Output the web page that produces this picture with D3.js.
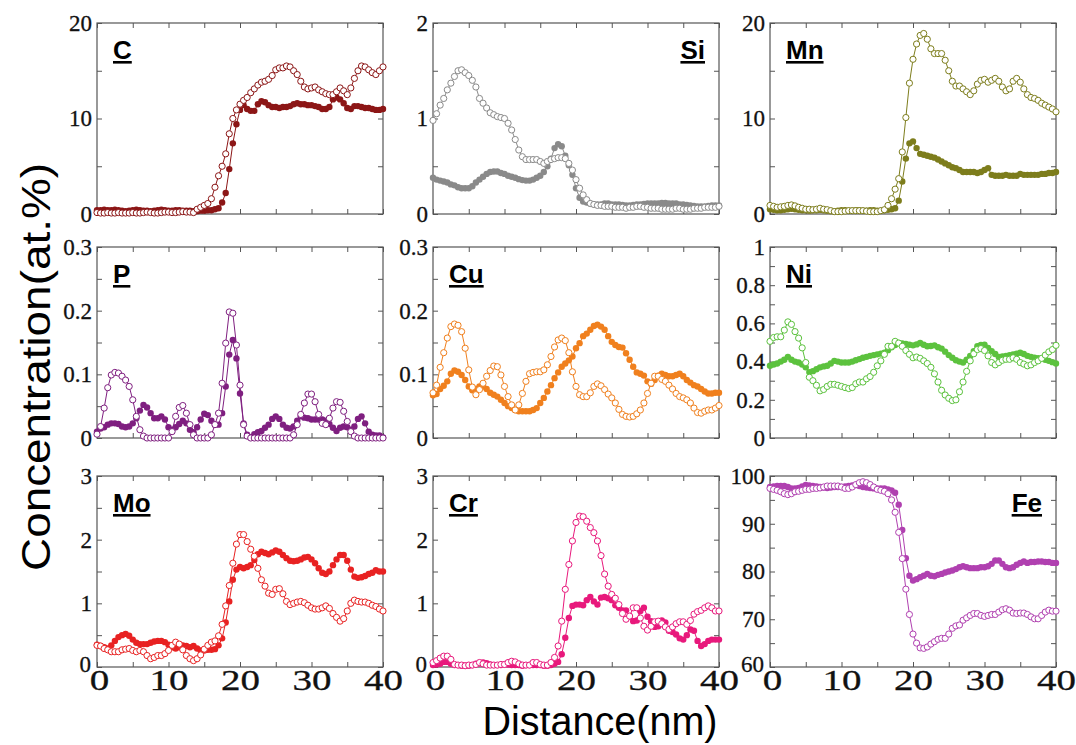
<!DOCTYPE html>
<html>
<head>
<meta charset="utf-8">
<script src="https://cdn.jsdelivr.net/npm/d3@7"></script>
<style>
  html, body { margin: 0; padding: 0; background: #fff; }
  svg { display: block; }
  .tick text { font-family: "Liberation Serif", "Times New Roman", serif; fill: #111; }
</style>
</head>
<body>
<svg id="chart" width="1076" height="745"></svg>
<script>
// distance axis (nm), one reading every 0.5 nm
const distance = d3.range(0, 40.25, 0.5);

const elements = ['C', 'Si', 'Mn', 'P', 'Cu', 'Ni', 'Mo', 'Cr', 'Fe'];
const colors = ['#8c1616', '#8a8a8a', '#7d7d1c', '#7f1f80', '#f0801e', '#5cc23e', '#e82222', '#e8197c', '#b040b0'];
const yDomains = [[0, 20], [0, 2], [0, 20], [0, 0.3], [0, 0.3], [0, 1], [0, 3], [0, 3], [60, 100]];
const yMinor = [5, 0.5, 5, 0.05, 0.05, 0.1, 0.5, 0.5, 5];
const yMajor = [10, 1, 10, 0.1, 0.1, 0.2, 1, 1, 10];
const labelSide = ['left', 'right', 'left', 'left', 'left', 'left', 'left', 'left', 'right'];
const xTicks = [0, 5, 10, 15, 20, 25, 30, 35, 40];

// filled symbols / open symbols, per element
const cFilled = [0.4,0.4,0.45,0.4,0.4,0.45,0.4,0.35,0.3,0.35,
  0.4,0.45,0.4,0.35,0.35,0.3,0.35,0.4,0.45,0.4,
  0.35,0.35,0.4,0.4,0.35,0.35,0.35,0.3,0.3,0.35,
  0.35,0.4,0.4,0.5,0.6,1.2,2.2,4.7,7.4,9.4,
  10.9,11.4,11.0,10.8,10.8,11.5,11.8,11.7,11.4,11.2,
  11.2,11.1,11.2,11.2,11.3,11.5,11.6,11.5,11.5,11.4,
  11.4,11.3,11.2,11.0,11.0,11.2,12.0,12.2,12.0,11.6,
  11.1,11.0,11.3,11.3,11.2,11.1,11.1,11.0,10.9,10.9,
  11.0];
const cOpen = [0.15,0.1,0.1,0.15,0.1,0.1,0.15,0.1,0.1,0.1,
  0.15,0.1,0.1,0.15,0.2,0.15,0.1,0.1,0.15,0.2,
  0.2,0.15,0.15,0.2,0.25,0.2,0.2,0.15,0.5,0.7,
  0.9,1.1,1.6,2.8,4.0,5.0,6.3,8.4,10.0,10.9,
  11.5,11.9,12.2,12.7,13.1,13.5,13.8,13.9,14.1,14.5,
  15.1,15.3,15.3,15.5,15.4,15.0,14.6,13.9,13.3,13.1,
  13.2,13.3,13.0,12.8,12.6,12.5,12.5,12.8,13.2,12.9,
  12.5,13.2,14.2,15.0,15.5,15.4,15.1,14.8,14.6,15.0,
  15.4];

const siFilled = [0.38,0.36,0.35,0.34,0.33,0.31,0.30,0.28,0.27,0.27,
  0.27,0.29,0.33,0.36,0.39,0.42,0.44,0.445,0.445,0.43,
  0.42,0.40,0.39,0.38,0.365,0.355,0.35,0.35,0.36,0.38,
  0.40,0.44,0.50,0.58,0.69,0.73,0.71,0.61,0.51,0.41,
  0.27,0.17,0.13,0.12,0.11,0.10,0.10,0.10,0.11,0.11,
  0.10,0.10,0.10,0.095,0.09,0.09,0.095,0.10,0.10,0.105,
  0.11,0.11,0.11,0.11,0.115,0.115,0.11,0.11,0.11,0.10,
  0.10,0.095,0.09,0.085,0.08,0.08,0.08,0.085,0.09,0.09,
  0.09];
const siOpen = [0.98,1.05,1.14,1.21,1.30,1.37,1.44,1.50,1.51,1.48,
  1.45,1.40,1.33,1.21,1.16,1.11,1.06,1.04,1.02,1.01,
  1.00,0.95,0.88,0.78,0.67,0.60,0.57,0.57,0.57,0.57,
  0.55,0.53,0.55,0.57,0.58,0.59,0.59,0.58,0.53,0.46,
  0.36,0.27,0.20,0.15,0.11,0.10,0.09,0.09,0.08,0.08,
  0.08,0.07,0.07,0.07,0.06,0.07,0.07,0.08,0.08,0.07,
  0.07,0.06,0.06,0.06,0.05,0.05,0.05,0.05,0.06,0.06,
  0.05,0.05,0.05,0.06,0.06,0.06,0.07,0.07,0.07,0.07,
  0.08];

const mnFilled = [0.5,0.45,0.4,0.4,0.45,0.5,0.55,0.5,0.45,0.4,
  0.4,0.35,0.4,0.4,0.45,0.4,0.35,0.3,0.3,0.35,
  0.4,0.4,0.35,0.35,0.4,0.4,0.35,0.35,0.4,0.4,
  0.35,0.35,0.4,0.45,0.5,0.6,1.4,3.4,5.8,7.4,
  7.6,6.9,6.3,6.2,6.1,6.0,5.9,5.7,5.5,5.3,
  5.1,4.9,4.8,4.6,4.4,4.4,4.4,4.4,4.3,4.4,
  4.6,4.8,4.1,4.0,4.0,4.0,4.1,4.0,4.0,4.0,
  4.2,4.1,4.1,4.1,4.1,4.1,4.2,4.2,4.3,4.3,
  4.4];
const mnOpen = [0.9,0.8,0.7,0.75,0.8,0.9,0.95,0.85,0.7,0.6,
  0.5,0.5,0.45,0.5,0.6,0.5,0.45,0.35,0.25,0.25,
  0.25,0.3,0.35,0.35,0.35,0.35,0.35,0.3,0.25,0.25,
  0.25,0.35,0.45,0.9,1.6,2.6,3.7,6.5,10.1,13.7,
  16.2,17.8,18.7,18.9,18.3,17.3,16.8,16.8,16.8,16.1,
  15.0,13.9,13.4,13.4,13.1,12.8,12.5,12.9,13.6,14.0,
  14.1,13.8,14.0,14.2,13.9,13.3,12.9,13.1,13.9,14.2,
  13.8,13.1,12.5,12.2,12.1,11.9,11.6,11.4,11.2,11.0,
  10.7];

const pFilled = [0.010,0.015,0.017,0.021,0.023,0.023,0.022,0.018,0.017,0.018,
  0.023,0.031,0.043,0.052,0.048,0.039,0.031,0.031,0.034,0.029,
  0.017,0.013,0.017,0.022,0.027,0.023,0.013,0.009,0.017,0.029,
  0.038,0.036,0.027,0.021,0.021,0.039,0.081,0.131,0.154,0.125,
  0.070,0.023,0.005,0.001,0.006,0.009,0.011,0.016,0.021,0.030,
  0.034,0.030,0.021,0.016,0.015,0.018,0.027,0.034,0.032,0.031,
  0.029,0.029,0.029,0.029,0.027,0.022,0.016,0.011,0.016,0.018,
  0.017,0.013,0.018,0.030,0.034,0.023,0.010,0.005,0.004,0.004,
  0.001];
const pOpen = [0.006,0.018,0.047,0.079,0.099,0.103,0.102,0.097,0.091,0.081,
  0.060,0.034,0.013,0.003,0,0,0,0,0,0,
  0,0.010,0.034,0.048,0.051,0.039,0.021,0.005,0,0,
  0,0,0.005,0.021,0.039,0.086,0.149,0.198,0.196,0.146,
  0.083,0.021,0.003,0,0,0,0,0,0,0,
  0,0,0,0,0,0.005,0.021,0.037,0.055,0.069,
  0.069,0.057,0.037,0.023,0.021,0.031,0.047,0.057,0.056,0.042,
  0.026,0.010,0.003,0,0,0,0,0,0,0,
  0];

const cuFilled = [0.067,0.069,0.077,0.082,0.089,0.101,0.106,0.104,0.099,0.091,
  0.081,0.075,0.077,0.081,0.081,0.077,0.071,0.068,0.065,0.060,
  0.055,0.050,0.047,0.044,0.042,0.042,0.042,0.042,0.044,0.047,
  0.055,0.063,0.073,0.083,0.094,0.103,0.112,0.117,0.122,0.128,
  0.141,0.149,0.160,0.164,0.170,0.176,0.178,0.175,0.170,0.160,
  0.151,0.146,0.143,0.142,0.133,0.123,0.112,0.103,0.101,0.098,
  0.089,0.085,0.091,0.098,0.101,0.099,0.097,0.097,0.099,0.101,
  0.097,0.091,0.087,0.083,0.081,0.077,0.073,0.070,0.070,0.071,
  0.071];
const cuOpen = [0.071,0.083,0.111,0.134,0.157,0.175,0.179,0.177,0.167,0.141,
  0.107,0.080,0.068,0.076,0.086,0.097,0.106,0.113,0.112,0.099,
  0.081,0.065,0.052,0.044,0.052,0.070,0.089,0.101,0.103,0.104,
  0.104,0.107,0.115,0.128,0.143,0.154,0.157,0.153,0.134,0.104,
  0.081,0.068,0.065,0.065,0.071,0.081,0.085,0.082,0.076,0.069,
  0.063,0.055,0.045,0.037,0.034,0.033,0.034,0.038,0.044,0.055,
  0.070,0.086,0.097,0.097,0.092,0.089,0.083,0.077,0.070,0.065,
  0.063,0.060,0.055,0.047,0.040,0.039,0.042,0.044,0.044,0.047,
  0.051];

const niFilled = [0.378,0.385,0.39,0.40,0.41,0.425,0.41,0.40,0.395,0.385,
  0.37,0.345,0.35,0.36,0.37,0.375,0.378,0.39,0.404,0.40,
  0.395,0.395,0.395,0.40,0.407,0.413,0.42,0.425,0.43,0.434,
  0.438,0.442,0.446,0.46,0.475,0.487,0.497,0.495,0.492,0.488,
  0.485,0.49,0.497,0.488,0.48,0.482,0.485,0.475,0.468,0.452,
  0.434,0.42,0.407,0.40,0.395,0.41,0.43,0.455,0.48,0.487,
  0.489,0.472,0.455,0.44,0.424,0.427,0.43,0.434,0.438,0.442,
  0.446,0.44,0.43,0.425,0.42,0.418,0.417,0.41,0.404,0.397,
  0.39];
const niOpen = [0.506,0.526,0.53,0.53,0.565,0.608,0.595,0.557,0.523,0.472,
  0.395,0.318,0.30,0.276,0.247,0.254,0.27,0.281,0.281,0.276,
  0.27,0.264,0.259,0.264,0.284,0.293,0.293,0.31,0.322,0.344,
  0.378,0.404,0.438,0.48,0.48,0.506,0.497,0.48,0.458,0.438,
  0.42,0.424,0.417,0.404,0.39,0.37,0.336,0.293,0.25,0.225,
  0.208,0.196,0.20,0.242,0.293,0.349,0.404,0.441,0.463,0.468,
  0.458,0.43,0.395,0.383,0.395,0.407,0.412,0.412,0.42,0.412,
  0.395,0.387,0.378,0.383,0.395,0.404,0.417,0.434,0.451,0.463,
  0.485];

const moFilled = [0.35,0.33,0.31,0.29,0.34,0.41,0.47,0.50,0.52,0.49,
  0.43,0.38,0.36,0.36,0.36,0.38,0.40,0.41,0.41,0.39,
  0.35,0.31,0.29,0.31,0.34,0.33,0.31,0.33,0.29,0.26,
  0.26,0.27,0.27,0.28,0.34,0.45,0.70,1.03,1.37,1.53,
  1.57,1.55,1.57,1.60,1.68,1.77,1.81,1.79,1.77,1.80,
  1.83,1.81,1.76,1.71,1.67,1.66,1.67,1.69,1.72,1.73,
  1.69,1.63,1.55,1.48,1.46,1.50,1.60,1.69,1.76,1.76,
  1.67,1.53,1.42,1.40,1.41,1.43,1.46,1.48,1.52,1.50,
  1.50];
const moOpen = [0.34,0.33,0.29,0.27,0.24,0.24,0.24,0.27,0.28,0.29,
  0.26,0.24,0.26,0.24,0.18,0.13,0.15,0.18,0.18,0.21,
  0.26,0.34,0.39,0.36,0.27,0.18,0.13,0.10,0.13,0.19,
  0.28,0.34,0.39,0.41,0.49,0.67,0.96,1.28,1.63,1.93,
  2.08,2.08,1.97,1.85,1.74,1.55,1.37,1.27,1.16,1.14,
  1.22,1.23,1.15,1.03,0.98,1.00,1.02,1.03,1.01,0.97,
  0.93,0.91,0.91,0.93,0.96,0.92,0.84,0.78,0.72,0.76,
  0.88,1.00,1.05,1.03,1.02,1.02,1.00,0.97,0.95,0.91,
  0.88];

const crFilled = [0.03,0.04,0.05,0.08,0.08,0.05,0.03,0.03,0.02,0.02,
  0.02,0.03,0.05,0.06,0.07,0.06,0.04,0.03,0.03,0.03,
  0.04,0.04,0.03,0.03,0.03,0.02,0.03,0.03,0.03,0.03,
  0.03,0.02,0.02,0.03,0.05,0.08,0.20,0.46,0.77,0.96,
  0.98,0.98,0.97,1.05,1.10,1.03,0.98,1.09,1.10,1.08,
  1.05,0.97,0.93,0.89,0.89,0.79,0.72,0.73,0.88,0.93,
  0.79,0.72,0.63,0.64,0.73,0.70,0.57,0.55,0.51,0.45,
  0.43,0.50,0.59,0.57,0.41,0.33,0.36,0.41,0.43,0.43,
  0.43];
const crOpen = [0.07,0.10,0.14,0.17,0.17,0.12,0.04,0.03,0.03,0.02,
  0.03,0.03,0.04,0.07,0.05,0.03,0.03,0.03,0.03,0.04,
  0.04,0.07,0.09,0.08,0.05,0.03,0.03,0.03,0.07,0.07,
  0.04,0.03,0.03,0.07,0.15,0.33,0.72,1.22,1.61,1.98,
  2.27,2.37,2.36,2.29,2.19,2.11,1.98,1.75,1.46,1.27,
  1.14,1.08,0.98,0.84,0.75,0.80,0.93,0.93,0.77,0.64,
  0.58,0.64,0.71,0.72,0.68,0.63,0.59,0.63,0.68,0.71,
  0.71,0.67,0.73,0.83,0.87,0.89,0.93,0.96,0.93,0.88,
  0.88];

const feFilled = [97.7,97.8,97.9,97.9,97.9,97.7,97.4,97.4,97.5,97.8,
  98.1,98.0,97.9,97.8,97.7,97.6,97.5,97.6,97.7,97.7,
  97.7,97.8,97.9,98.0,98.1,97.9,97.7,97.6,97.5,97.4,
  97.4,97.4,97.4,97.2,97.0,96.5,94.0,88.7,82.8,79.1,
  78.1,78.4,78.8,79.1,79.5,79.1,79.0,79.3,79.5,79.8,
  80.0,80.2,80.5,80.9,81.1,80.9,80.7,80.7,80.7,80.9,
  80.9,81.1,81.6,82.3,82.3,81.6,80.9,80.7,80.9,81.4,
  81.8,82.1,81.8,82.0,82.0,82.1,82.1,82.0,82.0,81.8,
  81.8];
const feOpen = [97.4,97.2,97.0,96.7,96.3,96.1,96.3,96.7,96.8,97.0,
  97.2,97.2,97.4,97.4,97.5,97.7,97.9,97.9,97.9,97.9,
  97.7,97.4,97.4,97.7,98.2,98.6,98.8,98.6,98.2,97.7,
  97.2,97.0,96.8,96.3,95.0,92.4,88.2,82.7,76.3,71.0,
  66.9,65.0,64.0,63.9,64.2,64.8,65.3,65.8,66.0,66.0,
  66.9,68.1,68.6,68.8,69.8,70.3,70.8,71.2,71.2,70.8,
  70.6,70.8,71.0,71.0,71.5,72.0,72.2,71.9,71.3,71.2,
  71.3,71.3,71.0,70.5,70.1,70.1,70.8,71.5,71.9,71.7,
  71.7];

const filledSeries = [cFilled, siFilled, mnFilled, pFilled, cuFilled, niFilled, moFilled, crFilled, feFilled];
const openSeries = [cOpen, siOpen, mnOpen, pOpen, cuOpen, niOpen, moOpen, crOpen, feOpen];

// ---- layout ----
const colLeft = [97, 433, 770];
const rowTop = [23, 247, 476];
const pw = 286, ph = 191;
const serif = '"Liberation Serif", "Times New Roman", serif';
const sans = '"Liberation Sans", Arial, Helvetica, sans-serif';

const svg = d3.select('#chart');
const fmt = d3.format('~g');

const isMultiple = (v, step) => Math.abs(v / step - Math.round(v / step)) < 1e-6;

elements.forEach(function(name, i) {
  const col = i % 3, row = Math.floor(i / 3);
  const color = colors[i];
  const g = svg.append('g').attr('transform', `translate(${colLeft[col]},${rowTop[row]})`);

  const x = d3.scaleLinear().domain([0, 40]).range([0, pw]);
  const y = d3.scaleLinear().domain(yDomains[i]).range([ph, 0]);

  const [lo, hi] = yDomains[i];
  const yTicks = d3.range(lo, hi + yMinor[i] / 2, yMinor[i]).map(v => +v.toFixed(6));
  const bottomRow = row === 2;

  // frame
  g.append('rect')
    .attr('width', pw).attr('height', ph)
    .attr('fill', 'none').attr('stroke', '#555').attr('stroke-width', 1.2);

  const axB = g.append('g').attr('transform', `translate(0,${ph})`)
    .call(d3.axisBottom(x).tickValues(xTicks).tickSizeInner(-5).tickSizeOuter(0).tickPadding(2)
      .tickFormat(d => bottomRow && isMultiple(d, 10) ? fmt(d) : ''));
  const axT = g.append('g')
    .call(d3.axisTop(x).tickValues(xTicks).tickSizeInner(-5).tickSizeOuter(0).tickFormat(''));
  const axL = g.append('g')
    .call(d3.axisLeft(y).tickValues(yTicks).tickSizeInner(-5).tickSizeOuter(0).tickPadding(5)
      .tickFormat(d => isMultiple(d, yMajor[i]) ? fmt(d) : ''));
  const axR = g.append('g').attr('transform', `translate(${pw},0)`)
    .call(d3.axisRight(y).tickValues(yTicks).tickSizeInner(-5).tickSizeOuter(0).tickFormat(''));

  [axB, axT, axL, axR].forEach(a => {
    a.select('.domain').remove();
    a.selectAll('.tick line').attr('stroke', '#555').attr('stroke-width', 1);
  });
  axL.selectAll('.tick text')
    .style('font-size', '23px').style('font-family', serif)
    .attr('stroke', '#111').attr('stroke-width', 0.3);
  axB.selectAll('.tick text')
    .style('font-size', '30px').style('font-family', serif)
    .attr('stroke', '#111').attr('stroke-width', 0.3)
    .attr('transform', d => d === 0 ? 'translate(2,0) scale(1.3,1)' : 'scale(1.3,1)');

  // in the bottom row the lowest y label sits a little higher, next to the x label
  if (bottomRow) {
    axL.selectAll('.tick text').filter(d => d === lo)
      .attr('dy', '0.2em').attr('x', -6);
  }

  const lineGen = d3.line().x((d, k) => x(distance[k])).y(d => y(d));

  // filled series
  g.append('path').datum(filledSeries[i])
    .attr('d', lineGen).attr('fill', 'none').attr('stroke', color).attr('stroke-width', 1);
  g.append('g').selectAll('circle').data(filledSeries[i]).join('circle')
    .attr('cx', (d, k) => x(distance[k])).attr('cy', d => y(d))
    .attr('r', 3.2).attr('fill', color);

  // open series
  g.append('path').datum(openSeries[i])
    .attr('d', lineGen).attr('fill', 'none').attr('stroke', color).attr('stroke-width', 1);
  g.append('g').selectAll('circle').data(openSeries[i]).join('circle')
    .attr('cx', (d, k) => x(distance[k])).attr('cy', d => y(d))
    .attr('r', 3.1).attr('fill', '#fff').attr('stroke', color).attr('stroke-width', 1);

  // element label
  const right = labelSide[i] === 'right';
  g.append('text')
    .attr('x', right ? pw - 14 : 16)
    .attr('y', 36)
    .attr('text-anchor', right ? 'end' : 'start')
    .style('font-family', sans).style('font-weight', 'bold').style('font-size', '26px')
    .style('text-decoration', 'underline')
    .attr('fill', '#000')
    .text(name);
});

// axis titles
svg.append('text')
  .attr('transform', 'translate(50,367) rotate(-90)')
  .attr('text-anchor', 'middle')
  .attr('textLength', 408).attr('lengthAdjust', 'spacingAndGlyphs')
  .style('font-family', sans).style('font-size', '40px')
  .attr('fill', '#000')
  .text('Concentration(at.%)');

svg.append('text')
  .attr('x', 600).attr('y', 735)
  .attr('text-anchor', 'middle')
  .attr('textLength', 235).attr('lengthAdjust', 'spacingAndGlyphs')
  .style('font-family', sans).style('font-size', '40px')
  .attr('fill', '#000')
  .text('Distance(nm)');
</script>
</body>
</html>
